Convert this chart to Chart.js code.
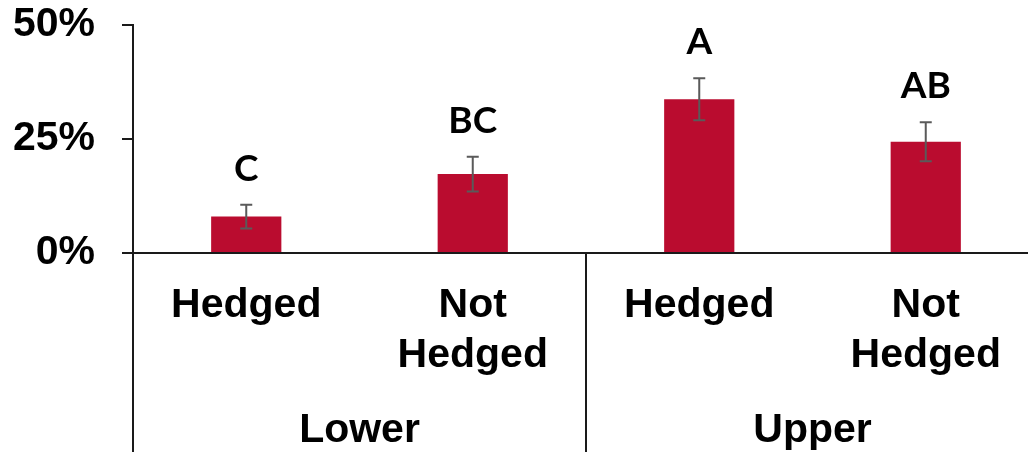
<!DOCTYPE html>
<html>
<head>
<meta charset="utf-8">
<script src="https://cdn.jsdelivr.net/npm/chart.js@4/dist/chart.umd.min.js"></script>
<style>
  html, body { margin: 0; padding: 0; background: #fff; overflow: hidden; }
  #wrap { width: 1040px; height: 452px; }
</style>
</head>
<body>
<div id="wrap"><canvas id="barChart" width="1040" height="452"></canvas></div>
<script>
const categories = ['Hedged', ['Not', 'Hedged'], 'Hedged', ['Not', 'Hedged']];
const groups = ['Lower', 'Upper'];
const values = [8.0, 17.3, 33.7, 24.4];
const errors = [2.6, 3.8, 4.6, 4.3];
const letters = ['C', 'BC', 'A', 'AB'];
const yTicks = [0, 25, 50];

const barColor = '#BA0C2F';
const axisColor = '#1a1a1a';
const labelFont = { family: '"Liberation Sans", Arial, sans-serif', size: 41, weight: 'bold', lineHeight: 1.22 };

// error bars plus the significance letters above them
const errorBarPlugin = {
  id: 'errorBars',
  afterDatasetsDraw(chart) {
    const { ctx, scales: { y } } = chart;
    const meta = chart.getDatasetMeta(0);
    ctx.save();
    meta.data.forEach((bar, i) => {
      const top = y.getPixelForValue(values[i] + errors[i]);
      const bottom = y.getPixelForValue(values[i] - errors[i]);
      ctx.strokeStyle = '#5a5a5a';
      ctx.lineWidth = 2;
      ctx.beginPath();
      ctx.moveTo(bar.x, top);
      ctx.lineTo(bar.x, bottom);
      ctx.moveTo(bar.x - 6, top);
      ctx.lineTo(bar.x + 6, top);
      ctx.moveTo(bar.x - 6, bottom);
      ctx.lineTo(bar.x + 6, bottom);
      ctx.stroke();

      ctx.fillStyle = '#000';
      ctx.font = 'bold 37px Lato, "Open Sans", sans-serif';
      ctx.textAlign = 'center';
      ctx.textBaseline = 'middle';
      ctx.fillText(letters[i], bar.x, top - 36);
    });
    ctx.restore();
  }
};

// vertical separators below the axis: left edge and between the two groups
const groupLinesPlugin = {
  id: 'groupLines',
  afterDraw(chart) {
    const { ctx, chartArea, scales: { x } } = chart;
    const mid = (x.getPixelForValue(1) + x.getPixelForValue(2)) / 2;
    ctx.save();
    ctx.strokeStyle = axisColor;
    ctx.lineWidth = 2;
    ctx.beginPath();
    [chartArea.left, mid].forEach(px => {
      ctx.moveTo(px, chartArea.bottom);
      ctx.lineTo(px, chart.height);
    });
    ctx.stroke();
    ctx.restore();
  }
};

new Chart(document.getElementById('barChart'), {
  type: 'bar',
  data: {
    labels: categories,
    datasets: [{
      data: values,
      backgroundColor: barColor,
      categoryPercentage: 1,
      barPercentage: 0.31
    }]
  },
  options: {
    responsive: false,
    animation: false,
    layout: { padding: { top: 25, right: 1, left: 0, bottom: 0 } },
    plugins: { legend: { display: false }, tooltip: { enabled: false } },
    scales: {
      y: {
        min: 0,
        max: 50,
        afterBuildTicks: s => { s.ticks = yTicks.map(v => ({ value: v })); },
        afterFit: s => { s.width = 133; s.paddingTop = 0; s.paddingBottom = 0; },
        grid: { drawOnChartArea: false, drawTicks: true, tickLength: 11, color: axisColor, lineWidth: 2 },
        border: { display: true, color: axisColor, width: 2 },
        ticks: { color: '#000', padding: 27, font: labelFont, callback: v => v + '%' }
      },
      x: {
        position: 'bottom',
        offset: true,
        afterFit: s => { s.height = 140; },
        grid: { display: false, drawTicks: false },
        border: { display: true, color: axisColor, width: 2 },
        ticks: { color: '#000', padding: 28, font: labelFont, maxRotation: 0, autoSkip: false }
      },
      group: {
        type: 'category',
        axis: 'x',
        labels: groups,
        position: 'bottom',
        offset: true,
        afterFit: s => { s.height = 59; },
        grid: { display: false, drawTicks: false },
        border: { display: false },
        ticks: { color: '#000', padding: 13, font: labelFont, maxRotation: 0 }
      }
    }
  },
  plugins: [errorBarPlugin, groupLinesPlugin]
});
</script>
</body>
</html>
